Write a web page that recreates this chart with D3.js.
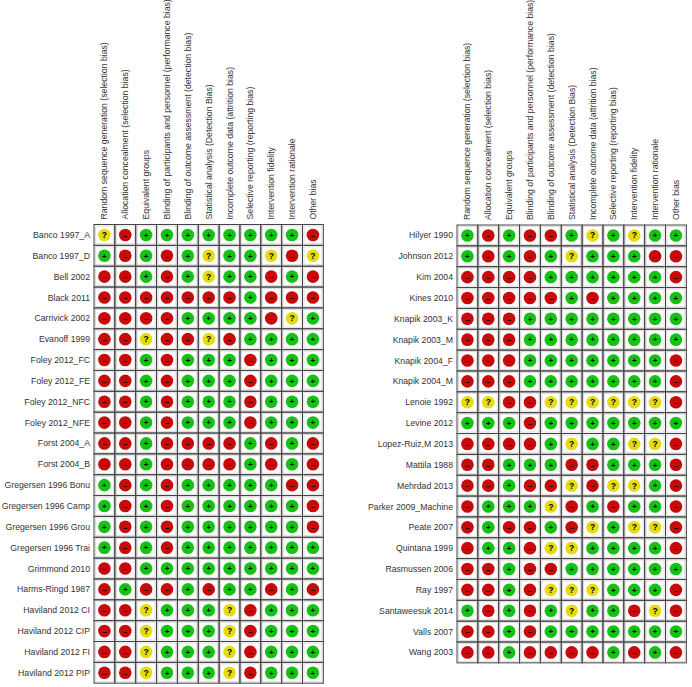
<!DOCTYPE html>
<html>
<head>
<meta charset="utf-8">
<script src="https://cdn.jsdelivr.net/npm/d3@7.9.0/dist/d3.min.js"></script>
<style>
  html, body { margin: 0; padding: 0; background: #fff; }
  svg { display: block; font-family: Arial, "Liberation Sans", sans-serif; }
</style>
</head>
<body>
<div id="chart"></div>
<script>
// risk of bias domains (column headers, same for both panels)
const domains = [
  'Random sequence generation (selection bias)',
  'Allocation concealment (selection bias)',
  'Equivalent groups',
  'Blinding of participants and personnel (performance bias)',
  'Blinding of outcome assessment (detection bias)',
  'Statistical analysis (Detection Bias)',
  'Incomplete outcome data (attrition bias)',
  'Selective reporting (reporting bias)',
  'Intervention fidelity',
  'Intervention rationale',
  'Other bias'
];

// G = low risk (+), R = high risk (-), Y = unclear (?)
const leftStudies = [
  'Banco 1997_A', 'Banco 1997_D', 'Bell 2002', 'Black 2011', 'Carrivick 2002',
  'Evanoff 1999', 'Foley 2012_FC', 'Foley 2012_FE', 'Foley 2012_NFC', 'Foley 2012_NFE',
  'Forst 2004_A', 'Forst 2004_B', 'Gregersen 1996 Bonu', 'Gregersen 1996 Camp',
  'Gregersen 1996 Grou', 'Gregersen 1996 Trai', 'Grimmond 2010', 'Harms-Ringd 1987',
  'Haviland 2012 CI', 'Haviland 2012 CIP', 'Haviland 2012 FI', 'Haviland 2012 PIP'
];
const leftRatings = [
  'YRGGGGGGGGR', 'GRGRGYGGYRY', 'RRGRGYGGRGR', 'RRRRRRRGRRR', 'RRRRGGGGRYG',
  'RRYRRYRGGGG', 'RRGRGGGRGGG', 'RRGRGGGRGGG', 'RRGRGGGRGGG', 'RRGRGGGRGGG',
  'RRGRRRRGRGR', 'RRGRRRRGRGR', 'GRGRGGGGGRR', 'GRGRGGGGGGR',
  'GRGRGGGGGGR', 'GRGRGGGGGGG', 'RRGGGGGGGGG', 'RGRRGRGGRGR',
  'RRYGGGYRGGG', 'RRYGGGYRGGG', 'RRYGGGYRGGG', 'RRYGGGYRGGG'
];

const rightStudies = [
  'Hilyer 1990', 'Johnson 2012', 'Kim 2004', 'Kines 2010', 'Knapik 2003_K',
  'Knapik 2003_M', 'Knapik 2004_F', 'Knapik 2004_M', 'Lenoie 1992', 'Levine 2012',
  'Lopez-Ruiz,M 2013', 'Mattila 1988', 'Mehrdad 2013', 'Parker 2009_Machine',
  'Peate 2007', 'Quintana 1999', 'Rasmussen 2006', 'Ray 1997', 'Santaweesuk 2014',
  'Valls 2007', 'Wang 2003'
];
const rightRatings = [
  'GRGRRGYGYGG', 'GRGRGYGGGRR', 'RRRRGGGGGGR', 'RRRRRGRGGGG', 'RRRGGGGGGGG',
  'RRRGGGGGGGG', 'RRRGGGGGGGR', 'RRRGGGGGGGR', 'YYRRYYYYYYR', 'GGGRGGGGGGG',
  'RRRRGYGGYYR', 'RRGGGRRGGGR', 'RRGRRYRYYGR', 'RGGGYRGRGGR',
  'RGRRGRYGYYR', 'RGGRYYGGGGR', 'RRGRRGGGGGG', 'RRGRYYYGGGR', 'GRGRGYGGRYR',
  'RRGRGGGGGGG', 'RRGRRRRGRGR'
];

const fills = { G: '#14c214', R: '#c80a0a', Y: '#e4dc10' };
const marks = { G: '+', R: '\u2013', Y: '?' };

const width = 692, height = 687;
const cell = 20.85;

const svg = d3.select('#chart').append('svg')
  .attr('width', width)
  .attr('height', height);

function drawPanel(studies, ratings, left, top) {
  const g = svg.append('g');

  const x = d3.scaleBand()
    .domain(d3.range(domains.length))
    .range([left, left + domains.length * cell]);
  const y = d3.scaleBand()
    .domain(studies)
    .range([top, top + studies.length * cell]);

  // headers, rotated
  g.append('g').selectAll('text')
    .data(domains)
    .join('text')
    .attr('transform', (d, i) => `translate(${x(i) + x.bandwidth() / 2},${top - 5}) rotate(-90)`)
    .attr('dy', '0.35em')
    .attr('font-size', 8.7)
    .attr('fill', '#333')
    .text(d => d);

  // study labels
  g.append('g').selectAll('text')
    .data(studies)
    .join('text')
    .attr('x', left - 4)
    .attr('y', d => y(d) + y.bandwidth() / 2)
    .attr('dy', '0.35em')
    .attr('text-anchor', 'end')
    .attr('font-size', 8.7)
    .attr('fill', '#333')
    .text(d => d);

  // cells
  const cells = studies.flatMap((s, r) =>
    ratings[r].split('').map((v, c) => ({ study: s, col: c, v })));

  const grid = g.append('g');
  // faint inner lines
  grid.selectAll('rect.inner')
    .data(cells)
    .join('rect')
    .attr('class', 'inner')
    .attr('x', d => x(d.col) + 1.5)
    .attr('y', d => y(d.study) + 1.5)
    .attr('width', x.bandwidth() - 3)
    .attr('height', y.bandwidth() - 3)
    .attr('fill', 'none')
    .attr('stroke', '#d6d6d6')
    .attr('stroke-width', 0.8);

  grid.selectAll('rect.outer')
    .data(cells)
    .join('rect')
    .attr('class', 'outer')
    .attr('x', d => x(d.col))
    .attr('y', d => y(d.study))
    .attr('width', x.bandwidth())
    .attr('height', y.bandwidth())
    .attr('fill', 'none')
    .attr('stroke', '#444')
    .attr('stroke-width', 1);

  const dots = g.append('g').selectAll('g')
    .data(cells)
    .join('g')
    .attr('transform', d => `translate(${x(d.col) + x.bandwidth() / 2},${y(d.study) + y.bandwidth() / 2})`);

  dots.append('circle')
    .attr('r', 6.3)
    .attr('fill', d => fills[d.v]);

  dots.append('text')
    .attr('text-anchor', 'middle')
    .attr('dy', d => d.v === 'Y' ? '0.36em' : '0.34em')
    .attr('font-size', d => d.v === 'Y' ? 8.5 : 8)
    .attr('font-weight', 'bold')
    .attr('fill', '#000')
    .text(d => marks[d.v]);
}

drawPanel(leftStudies, leftRatings, 94, 224.5);
drawPanel(rightStudies, rightRatings, 457, 225);
</script>
</body>
</html>
